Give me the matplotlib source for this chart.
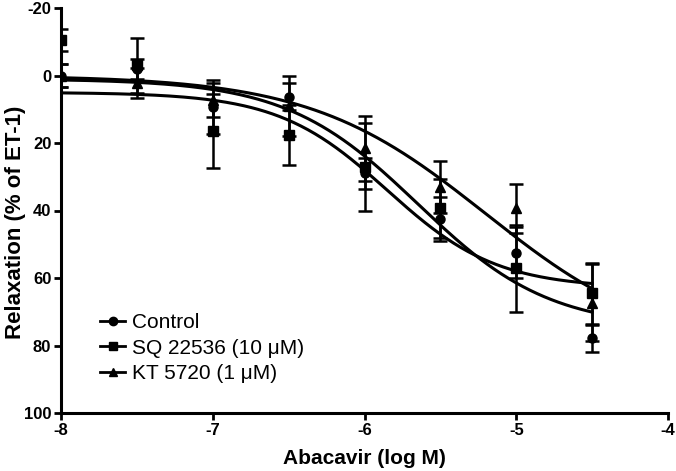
import numpy as np
import matplotlib
matplotlib.use("Agg")
import matplotlib.pyplot as plt
from matplotlib.lines import Line2D

plt.rcParams['axes.unicode_minus'] = False
plt.rcParams['font.family'] = ['Liberation Sans', 'DejaVu Sans']

# Data (log M concentration vs relaxation %)
log_conc = [-8, -7.5, -7, -6.5, -6, -5.5, -5, -4.5]

control_mean = [0.0, -2.0, 9.2, 6.3, 29.0, 42.5, 52.5, 77.9]
control_sem = [3.5, 3.0, 8.0, 4.0, 4.7, 6.5, 7.5, 4.0]

sq_mean = [-10.5, -3.0, 16.4, 17.6, 27.0, 39.4, 57.1, 64.5]
sq_sem = [3.2, 8.2, 10.9, 9.0, 13.0, 8.8, 12.9, 9.0]

kt_mean = [0.0, 2.3, 7.3, 9.0, 21.6, 33.0, 39.4, 67.3]
kt_sem = [3.5, 4.5, 5.0, 9.0, 9.6, 7.8, 7.4, 11.5]

labels = ["Control", "SQ 22536 (10 \u03bcM)", "KT 5720 (1 \u03bcM)"]
markers = ["o", "s", "^"]

# Sigmoidal fit parameters (top, bottom, logEC50, hill)
fit_control = (1.0, 75.0, -5.65, 1.0)
fit_sq = (5.0, 63.0, -5.85, 1.2)
fit_kt = (0.0, 82.0, -5.2, 0.75)

def sigmoid(x, p):
    top, bottom, ec50, h = p
    return bottom + (top - bottom) / (1 + 10 ** ((x - ec50) * h))

fig = plt.figure(figsize=(6.76, 4.71), dpi=100)
ax = fig.add_axes([61 / 676, 58 / 471, 607 / 676, 405 / 471])

xs = np.linspace(-8, -4.5, 300)
series = [(control_mean, control_sem, fit_control),
          (sq_mean, sq_sem, fit_sq),
          (kt_mean, kt_sem, fit_kt)]
for (m, s, p), mk in zip(series, markers):
    ax.plot(xs, sigmoid(xs, p), color='black', lw=2.2, zorder=2)
    ax.errorbar(log_conc, m, yerr=s, fmt=mk, color='black', ms=6.5,
                elinewidth=1.8, capsize=5, capthick=1.8, zorder=3)

ax.set_xlim(-8, -4)
ax.set_ylim(100, -20)
ax.set_xticks([-8, -7, -6, -5, -4])
ax.set_yticks([-20, 0, 20, 40, 60, 80, 100])
ax.set_xticklabels(["-8", "-7", "-6", "-5", "-4"])
ax.set_yticklabels(["-20", "0", "20", "40", "60", "80", "100"])
for sp in ['top', 'right']:
    ax.spines[sp].set_visible(False)
for sp in ['left', 'bottom']:
    ax.spines[sp].set_linewidth(2.2)
ax.tick_params(direction='out', length=5, width=2, labelsize=12, pad=2)
for lab in ax.get_xticklabels() + ax.get_yticklabels():
    lab.set_fontweight('bold')

ax.set_xlabel("Abacavir (log M)", fontsize=15, fontweight='bold', labelpad=8)
ax.set_ylabel("Relaxation (% of ET-1)", fontsize=16, fontweight='bold')
ax.yaxis.set_label_coords(-35 / 607, 0.47)

handles = [Line2D([0], [0], color='black', lw=2, marker=mk, ms=6) for mk in markers]
ax.legend(handles, labels, loc='center left', bbox_to_anchor=(39 / 607, 65 / 405),
          frameon=False, handlelength=1.2, handletextpad=0.35, labelspacing=0.32,
          borderpad=0, borderaxespad=0, prop={'size': 15})

fig.savefig("out.png", dpi=100)
